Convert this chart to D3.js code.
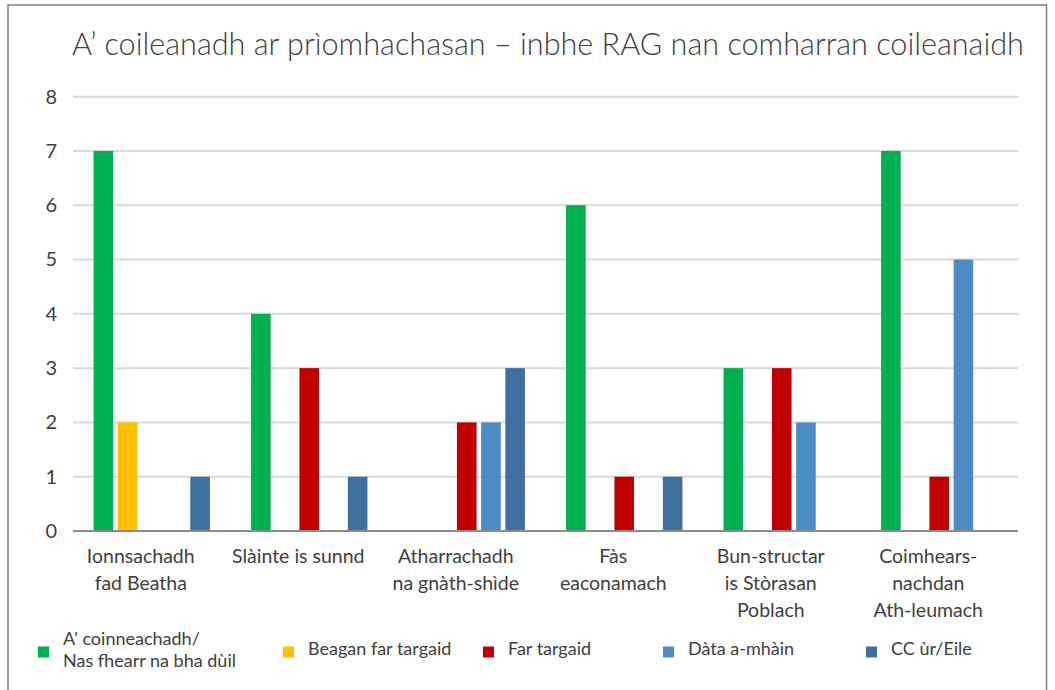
<!DOCTYPE html>
<html>
<head>
<meta charset="utf-8">
<script src="https://cdn.jsdelivr.net/npm/d3@7"></script>
<style>
  html, body { margin: 0; padding: 0; background: #fff; }
  svg { display: block; font-family: Lato, "Open Sans", sans-serif; }
</style>
</head>
<body>
<svg id="chart" width="1055" height="690"></svg>
<script>
// Priority areas and performance-indicator RAG counts
const categories = [
  ["Ionnsachadh", "fad Beatha"],
  ["Slàinte is sunnd"],
  ["Atharrachadh", "na gnàth-shìde"],
  ["Fàs", "eaconamach"],
  ["Bun-structar", "is Stòrasan", "Poblach"],
  ["Coimhears-", "nachdan", "Ath-leumach"]
];
const seriesNames = [
  ["A' coinneachadh/", "Nas fhearr na bha dùil"],
  ["Beagan far targaid"],
  ["Far targaid"],
  ["Dàta a-mhàin"],
  ["CC ùr/Eile"]
];
const onTrack   = [7, 4, 0, 6, 3, 7];
const slightOff = [2, 0, 0, 0, 0, 0];
const offTrack  = [0, 3, 2, 1, 3, 1];
const dataOnly  = [0, 0, 2, 0, 2, 5];
const newOther  = [1, 1, 3, 1, 0, 0];
const yTicks = [0, 1, 2, 3, 4, 5, 6, 7, 8];
const seriesColors = ["#00b050", "#ffc000", "#c00000", "#4d8bc7", "#3e6f9f"];

const seriesValues = [onTrack, slightOff, offTrack, dataOnly, newOther];

const svg = d3.select("#chart");

// outer frame
svg.append("rect")
  .attr("x", 8).attr("y", 5)
  .attr("width", 1038.5).attr("height", 700)
  .attr("fill", "#fff")
  .attr("stroke", "#7f7f7f").attr("stroke-width", 1.5);

// title, sized to span the plot width
const title = svg.append("text")
  .attr("x", 72).attr("y", 55)
  .attr("font-size", 30).attr("font-weight", 300)
  .attr("fill", "#404040")
  .text("A\u2019 coileanadh ar prìomhachasan \u2013 inbhe RAG nan comharran coileanaidh");
const tw = title.node().getComputedTextLength();
if (tw > 0) title.attr("font-size", Math.min(31, 30 * 952 / tw));

const plot = { left: 73, right: 1018, top: 96.7, bottom: 531 };

const x0 = d3.scaleBand()
  .domain(d3.range(categories.length))
  .range([plot.left, plot.right])
  .padding(0);

const x1 = d3.scaleBand()
  .domain(d3.range(seriesNames.length))
  .range([0, x0.bandwidth()])
  .paddingInner(0.19)
  .paddingOuter(0.85);

const y = d3.scaleLinear()
  .domain([0, 8])
  .range([plot.bottom, plot.top]);

// gridlines
svg.append("g")
  .selectAll("line")
  .data(yTicks.filter(d => d > 0))
  .join("line")
  .attr("x1", plot.left).attr("x2", plot.right)
  .attr("y1", d => y(d)).attr("y2", d => y(d))
  .attr("stroke", "#d9d9d9").attr("stroke-width", 2);

// y axis labels
const yAxis = d3.axisLeft(y).tickValues(yTicks).tickSize(0).tickPadding(16);
const yG = svg.append("g")
  .attr("transform", `translate(${plot.left},0)`)
  .call(yAxis);
yG.select(".domain").remove();
yG.selectAll("text")
  .attr("font-family", "Lato, sans-serif")
  .attr("font-size", 20)
  .attr("fill", "#404040");

// bars
const groups = svg.append("g")
  .selectAll("g")
  .data(categories.map((c, i) => i))
  .join("g")
  .attr("transform", i => `translate(${x0(i)},0)`);

groups.selectAll("rect")
  .data(i => seriesValues.map((vals, s) => ({ s, v: vals[i] })))
  .join("rect")
  .attr("x", d => x1(d.s))
  .attr("width", x1.bandwidth())
  .attr("y", d => y(d.v))
  .attr("height", d => y(0) - y(d.v))
  .attr("fill", d => seriesColors[d.s]);

// baseline
svg.append("line")
  .attr("x1", plot.left).attr("x2", plot.right)
  .attr("y1", y(0)).attr("y2", y(0))
  .attr("stroke", "#8c8c8c").attr("stroke-width", 2);

// category labels
const xAxis = d3.axisBottom(x0).tickSize(0).tickFormat(() => "");
const xG = svg.append("g")
  .attr("transform", `translate(0,${plot.bottom})`)
  .call(xAxis);
xG.select(".domain").remove();
xG.selectAll(".tick").each(function(i) {
  const t = d3.select(this).select("text")
    .attr("font-family", "Lato, sans-serif")
    .attr("font-size", 19.5)
    .attr("fill", "#404040")
    .attr("text-anchor", "middle")
    .attr("y", 0).attr("dy", null);
  categories[i].forEach((line, k) => {
    t.append("tspan")
      .attr("x", -11)
      .attr("y", 32 + k * 27)
      .text(line);
  });
});

// legend
const legendX = [38, 283, 483, 663, 866];
const legend = svg.append("g")
  .selectAll("g")
  .data(seriesNames.map((n, i) => i))
  .join("g")
  .attr("transform", i => `translate(${legendX[i]},652)`);

legend.append("rect")
  .attr("x", 0).attr("y", -5.5)
  .attr("width", 11).attr("height", 11)
  .attr("fill", i => seriesColors[i]);

legend.append("text")
  .attr("x", 25)
  .attr("font-size", 18)
  .attr("fill", "#404040")
  .each(function(i) {
    const lines = seriesNames[i];
    const t = d3.select(this);
    const y0 = lines.length === 1 ? 3 : -7;
    lines.forEach((line, k) => {
      t.append("tspan")
        .attr("x", 25)
        .attr("y", y0 + k * 22)
        .text(line);
    });
  });
</script>
</body>
</html>
